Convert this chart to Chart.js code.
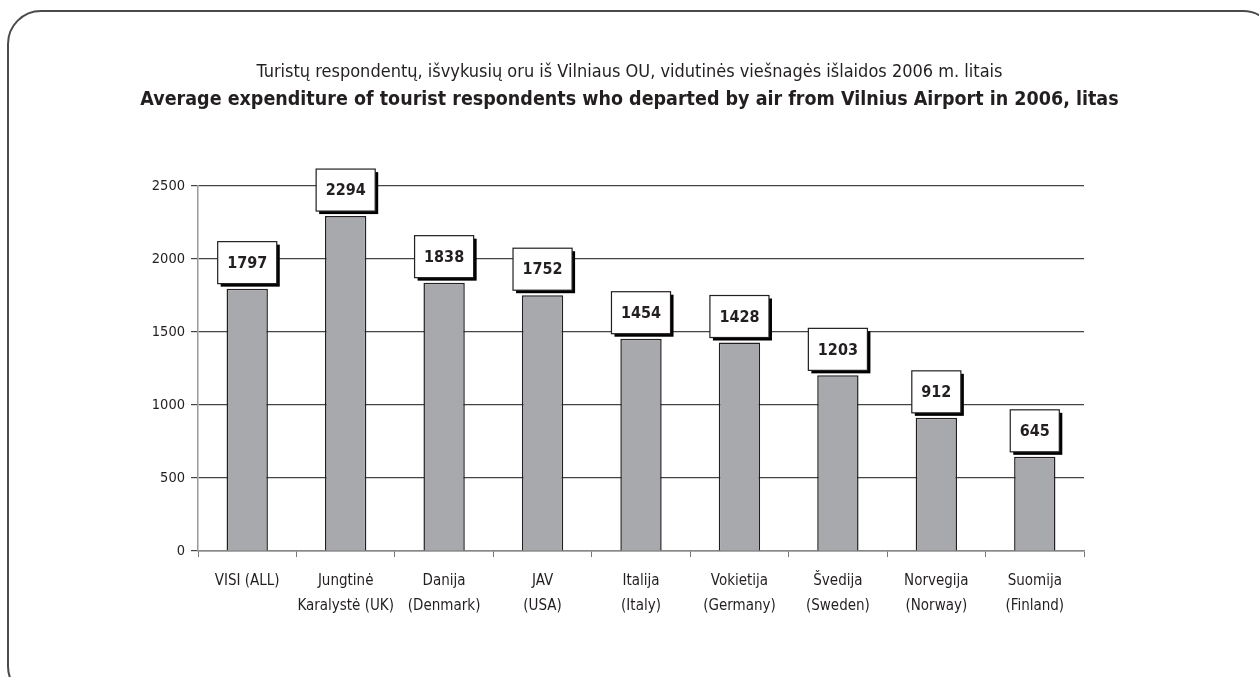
<!DOCTYPE html>
<html>
<head>
<meta charset="utf-8">
<script src="https://cdn.jsdelivr.net/npm/chart.js@4"></script>
<style>
  html, body { margin: 0; padding: 0; background: #fff; overflow: hidden; }
  #wrap { position: relative; width: 1259px; height: 677px; }
  #frame { position: absolute; left: 7px; top: 10px; width: 1270px; height: 690px;
           border: 2px solid #4a4a4a; border-radius: 34px; box-sizing: border-box; }
  canvas { position: absolute; left: 0; top: 0; }
</style>
</head>
<body>
<div id="wrap">
  <div id="frame"></div>
  <canvas id="myChart" width="1259" height="677"></canvas>
</div>
<script>
var categories = [
    ['VISI (ALL)'],
    ['Jungtinė', 'Karalystė (UK)'],
    ['Danija', '(Denmark)'],
    ['JAV', '(USA)'],
    ['Italija', '(Italy)'],
    ['Vokietija', '(Germany)'],
    ['Švedija', '(Sweden)'],
    ['Norvegija', '(Norway)'],
    ['Suomija', '(Finland)']
]
var expenditure = [1797, 2294, 1838, 1752, 1454, 1428, 1203, 912, 645]
var yTicks = [0, 500, 1000, 1500, 2000, 2500]

var titleLt = 'Turistų respondentų, išvykusių oru iš Vilniaus OU, vidutinės viešnagės išlaidos 2006 m. litais'
var titleEn = 'Average expenditure of tourist respondents who departed by air from Vilnius Airport in 2006, litas'

var FONT = "'Liberation Sans Narrow', 'DejaVu Sans Condensed', sans-serif"
var INK = '#231f20'

// boxed value labels with a drop shadow
var valueBoxes = {
    id: 'valueBoxes',
    afterDatasetsDraw: function(chart) {
        var ctx = chart.ctx
        var meta = chart.getDatasetMeta(0)
        ctx.save()
        ctx.font = 'bold 16px ' + FONT
        meta.data.forEach(function(bar, i) {
            var txt = String(expenditure[i])
            var w = ctx.measureText(txt).width + 19
            var h = 42
            var x = bar.x - w / 2
            var y = bar.y - 5 - h
            ctx.fillStyle = '#000'
            ctx.fillRect(x + 3, y + 3, w, h)
            ctx.fillStyle = '#fff'
            ctx.fillRect(x, y, w, h)
            ctx.strokeStyle = INK
            ctx.lineWidth = 1.2
            ctx.strokeRect(x, y, w, h)
            ctx.fillStyle = INK
            ctx.textAlign = 'center'
            ctx.textBaseline = 'middle'
            ctx.fillText(txt, bar.x, y + h / 2 + 1)
        })
        ctx.restore()
    }
}

var ctx = document.getElementById('myChart')
var myChart = new Chart(ctx, {
    type: 'bar',
    data: {
        labels: categories,
        datasets: [{
            data: expenditure,
            backgroundColor: '#a7a9ac',
            borderColor: INK,
            borderWidth: 1.5,
            barPercentage: 0.42,
            categoryPercentage: 1
        }]
    },
    plugins: [valueBoxes],
    options: {
        responsive: false,
        animation: false,
        layout: { padding: 0 },
        plugins: {
            legend: { display: false },
            tooltip: { enabled: false },
            title: {
                display: true,
                text: titleLt,
                color: INK,
                font: { family: FONT, size: 18, weight: 'normal', lineHeight: 1.2 },
                padding: { top: 62, bottom: 2 }
            },
            subtitle: {
                display: true,
                text: titleEn,
                color: INK,
                font: { family: FONT, size: 19.5, weight: 'bold', lineHeight: 1.2 },
                padding: { top: 3, bottom: 74 }
            }
        },
        scales: {
            x: {
                afterFit: function(scale) { scale.height = 126 },
                grid: { display: true, drawOnChartArea: false, offset: true, color: '#777', tickLength: 6 },
                border: { color: '#888', width: 1.5 },
                ticks: {
                    color: INK,
                    padding: 12,
                    autoSkip: false,
                    maxRotation: 0,
                    minRotation: 0,
                    font: { family: FONT, size: 15, lineHeight: 1.65 }
                }
            },
            y: {
                min: 0,
                max: 2500,
                afterFit: function(scale) { scale.width = 198 },
                afterBuildTicks: function(scale) {
                    scale.ticks = yTicks.map(function(v) { return { value: v } })
                },
                grid: { color: '#444', lineWidth: 1.2, tickLength: 7 },
                border: { color: '#999', width: 1.5 },
                ticks: {
                    color: INK,
                    padding: 6,
                    font: { family: FONT, size: 14.5 },
                    callback: function(v) { return String(v) }
                }
            },
            // empty right-hand axis keeps the plot at the reference width
            spacer: {
                position: 'right',
                display: true,
                afterFit: function(scale) { scale.width = 175 },
                grid: { display: false, drawOnChartArea: false },
                border: { display: false },
                ticks: { display: false }
            }
        }
    }
})
</script>
</body>
</html>
